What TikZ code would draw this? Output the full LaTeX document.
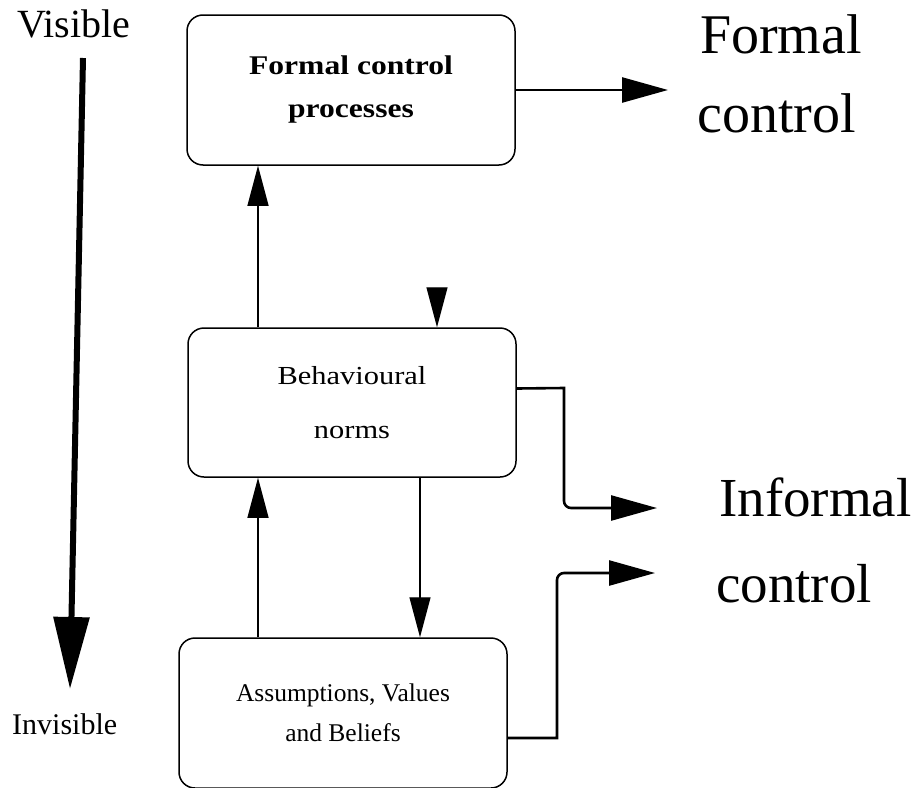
\documentclass[tikz,border=0pt]{standalone}
\usepackage{fontspec}
\setmainfont{Liberation Serif}
\newfontfamily\widefont[FakeStretch=1.17]{Liberation Serif}
\usetikzlibrary{arrows.meta,calc}

\tikzset{
  layer/.style={draw=black, line width=1.5pt, rounded corners=16pt,
    minimum width=328pt, align=center, inner sep=0pt},
  thinlink/.style={line width=1.2pt,
    -{Triangle[length=40pt,width=21pt]}},
  thicklink/.style={line width=2.6pt,
    -{Triangle[length=46pt,width=25pt]}},
  outcome/.style={anchor=base west, inner sep=0pt, font=\fontsize{56}{60}\selectfont},
  depth/.style={anchor=base west, inner sep=0pt},
}

\begin{document}
\begin{tikzpicture}[x=1pt,y=-1pt]
\useasboundingbox (0,0) rectangle (920,787);

% the three cultural layers
\node[layer, minimum height=150pt, font=\widefont\bfseries\fontsize{27}{43}\selectfont]
  (formal) at (351,90) {Formal control\\processes};
\node[layer, minimum height=149pt, font=\widefont\fontsize{26}{54}\selectfont]
  (norms) at (352,402.5) {Behavioural\\norms};
\node[layer, minimum height=150pt, font=\fontsize{25.5}{40}\selectfont]
  (values) at (343,713) {Assumptions, Values\\and Beliefs};

% visibility scale
\node[depth, font=\fontsize{40}{44}\selectfont] (vis) at (17,37) {Visible};
\node[depth, font=\fontsize{30}{34}\selectfont] (invis) at (12,734) {Invisible};
\coordinate (scaletop) at (83,58);
\coordinate (scalebot) at (70,689);
\draw[line width=6pt, -{Triangle[length=72pt,width=35pt]}] (scaletop) -- (scalebot);

% kinds of control
\node[outcome] (fc1) at (700,53) {Formal};
\node[outcome] (fc2) at (697,132) {control};
\node[outcome, font=\fontsize{55}{60}\selectfont] (ic1) at (719,516) {Informal};
\node[outcome, font=\fontsize{55}{60}\selectfont] (ic2) at (716,602) {control};

% end points of the outcome arrows
\coordinate (fcend) at (668,90);
\coordinate (icendA) at (657,508);
\coordinate (icendB) at (655,573);

% vertical links between layers
\coordinate (colA) at (258,0);
\coordinate (colB) at (420,0);
\coordinate (colC) at (437,0);
\draw[thinlink] (norms.north -| colA) -- (formal.south -| colA);
\draw[thinlink] (values.north -| colA) -- (norms.south -| colA);
\draw[thinlink] (norms.south -| colB) -- (values.north -| colB);
\coordinate (normsin) at (437,290);
\draw[thinlink] (normsin) -- (norms.north -| colC);

% links to the kinds of control
\draw[thicklink] (formal.east) -- (fcend);
\draw[thicklink] ([yshift=14pt]norms.east) -- (564,388)
  [rounded corners=7pt] -- (564,508) -- (icendA);
\draw[thicklink] ([yshift=-25pt]values.east) -- (557,738)
  [rounded corners=7pt] -- (557,573) -- (icendB);
\end{tikzpicture}
\end{document}
